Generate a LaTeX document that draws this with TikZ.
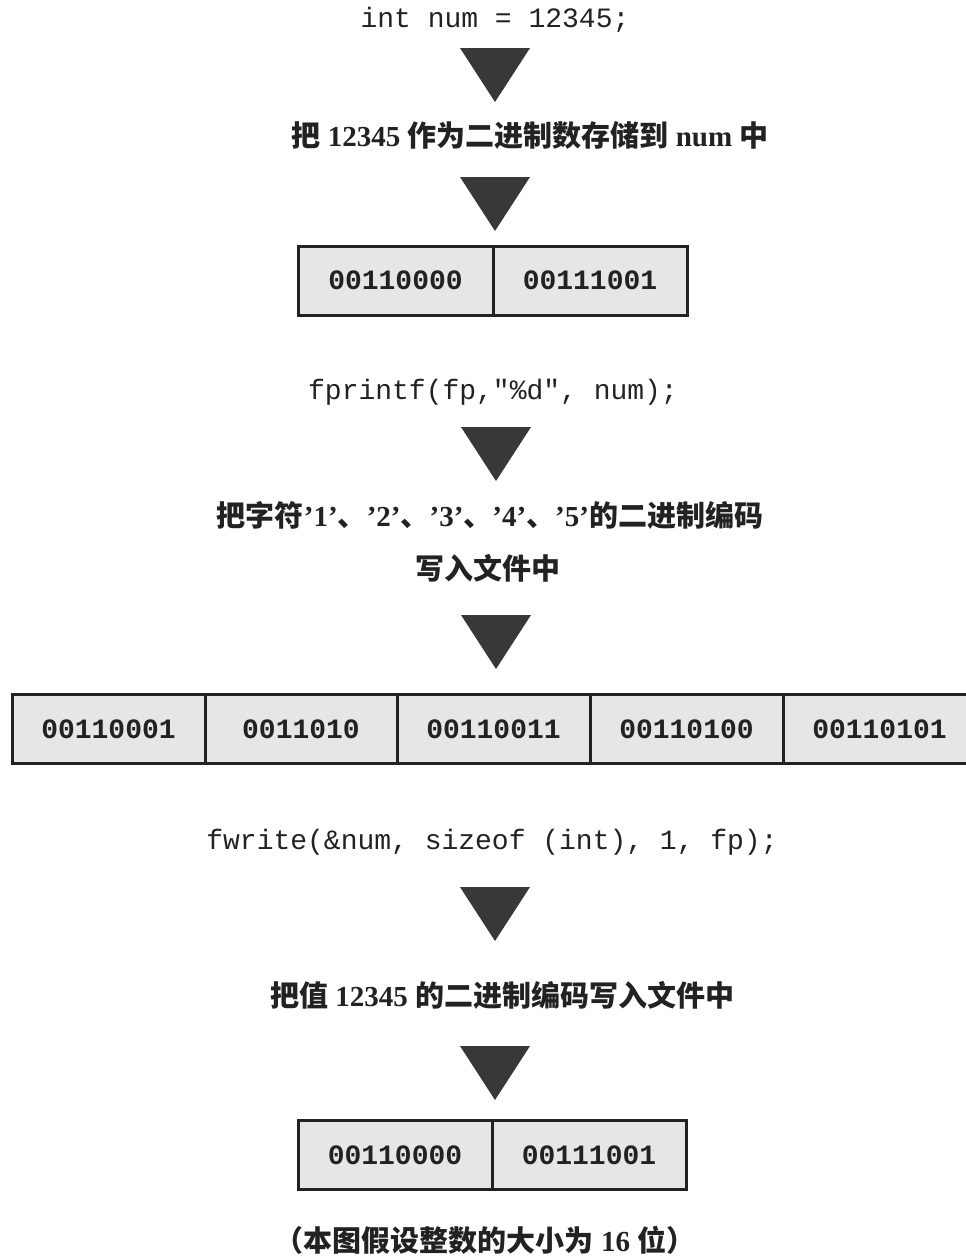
\documentclass[tikz,border=0pt]{standalone}
\usepackage{fontspec}
\setmainfont{Liberation Serif}
\setmonofont{Liberation Mono}
\newfontfamily\cjkf{Noto Sans CJK SC}
\definecolor{ink}{HTML}{222222}
\definecolor{cellgray}{HTML}{E6E6E6}
\definecolor{trifill}{HTML}{383838}
\begin{document}
\begin{tikzpicture}[x=1pt,y=-1pt,
  code/.style={font=\ttfamily\fontsize{28}{30}\selectfont, text=ink, inner sep=0pt},
  zh/.style={font=\bfseries\fontsize{29}{32}\selectfont, text=ink, inner sep=0pt},
  cell/.style={draw=ink, line width=3pt, fill=cellgray, minimum height=69pt, inner sep=0pt,
    font=\ttfamily\bfseries\fontsize{28}{30}\selectfont, text=ink},
  tri/.pic={\fill[trifill] (-35,0) -- (35,0) -- (0,54) -- cycle;}
]
\useasboundingbox (0,0) rectangle (966,1256);
\clip (0,0) rectangle (966,1256);
\fill[white] (0,0) rectangle (966,1256);

% first statement
\node[code] (c1) at (495,20) {int num = 12345;};
\pic at (495,48) {tri};
\node[zh] (t1) at (530,135) {{\cjkf 把} 12345 {\cjkf 作为二进制数存储到} num {\cjkf 中}};
\pic at (495,177) {tri};
\node[cell, minimum width=195pt] (a1) at (395.5,280.5) {00110000};
\node[cell, minimum width=194pt] (a2) at (590,280.5) {00111001};

% fprintf
\node[code] (c2) at (493,392) {fprintf(fp,"\%d", num);};
\pic at (496,427) {tri};
\node[zh] (t2) at (490,515) {{\cjkf 把字符}'1'{\cjkf 、}'2'{\cjkf 、}'3'{\cjkf 、}'4'{\cjkf 、}'5'{\cjkf 的二进制编码}};
\node[zh] (t3) at (488,568) {{\cjkf 写入文件中}};
\pic at (496,615) {tri};
\node[cell, minimum width=193pt] (b1) at (108.5,729) {00110001};
\node[cell, minimum width=192pt] (b2) at (301,729) {0011010};
\node[cell, minimum width=193pt] (b3) at (493.5,729) {00110011};
\node[cell, minimum width=193pt] (b4) at (686.5,729) {00110100};
\node[cell, minimum width=193pt] (b5) at (879.5,729) {00110101};

% fwrite
\node[code] (c3) at (492,842) {fwrite(\&num, sizeof (int), 1, fp);};
\pic at (495,887) {tri};
\node[zh] (t4) at (502,995) {{\cjkf 把值} 12345 {\cjkf 的二进制编码写入文件中}};
\pic at (495,1046) {tri};
\node[cell, minimum width=194pt] (d1) at (395,1155) {00110000};
\node[cell, minimum width=194pt] (d2) at (589,1155) {00111001};

\node[zh] (t5) at (485,1240) {{\cjkf （本图假设整数的大小为} 16 {\cjkf 位）}};
\end{tikzpicture}
\end{document}
